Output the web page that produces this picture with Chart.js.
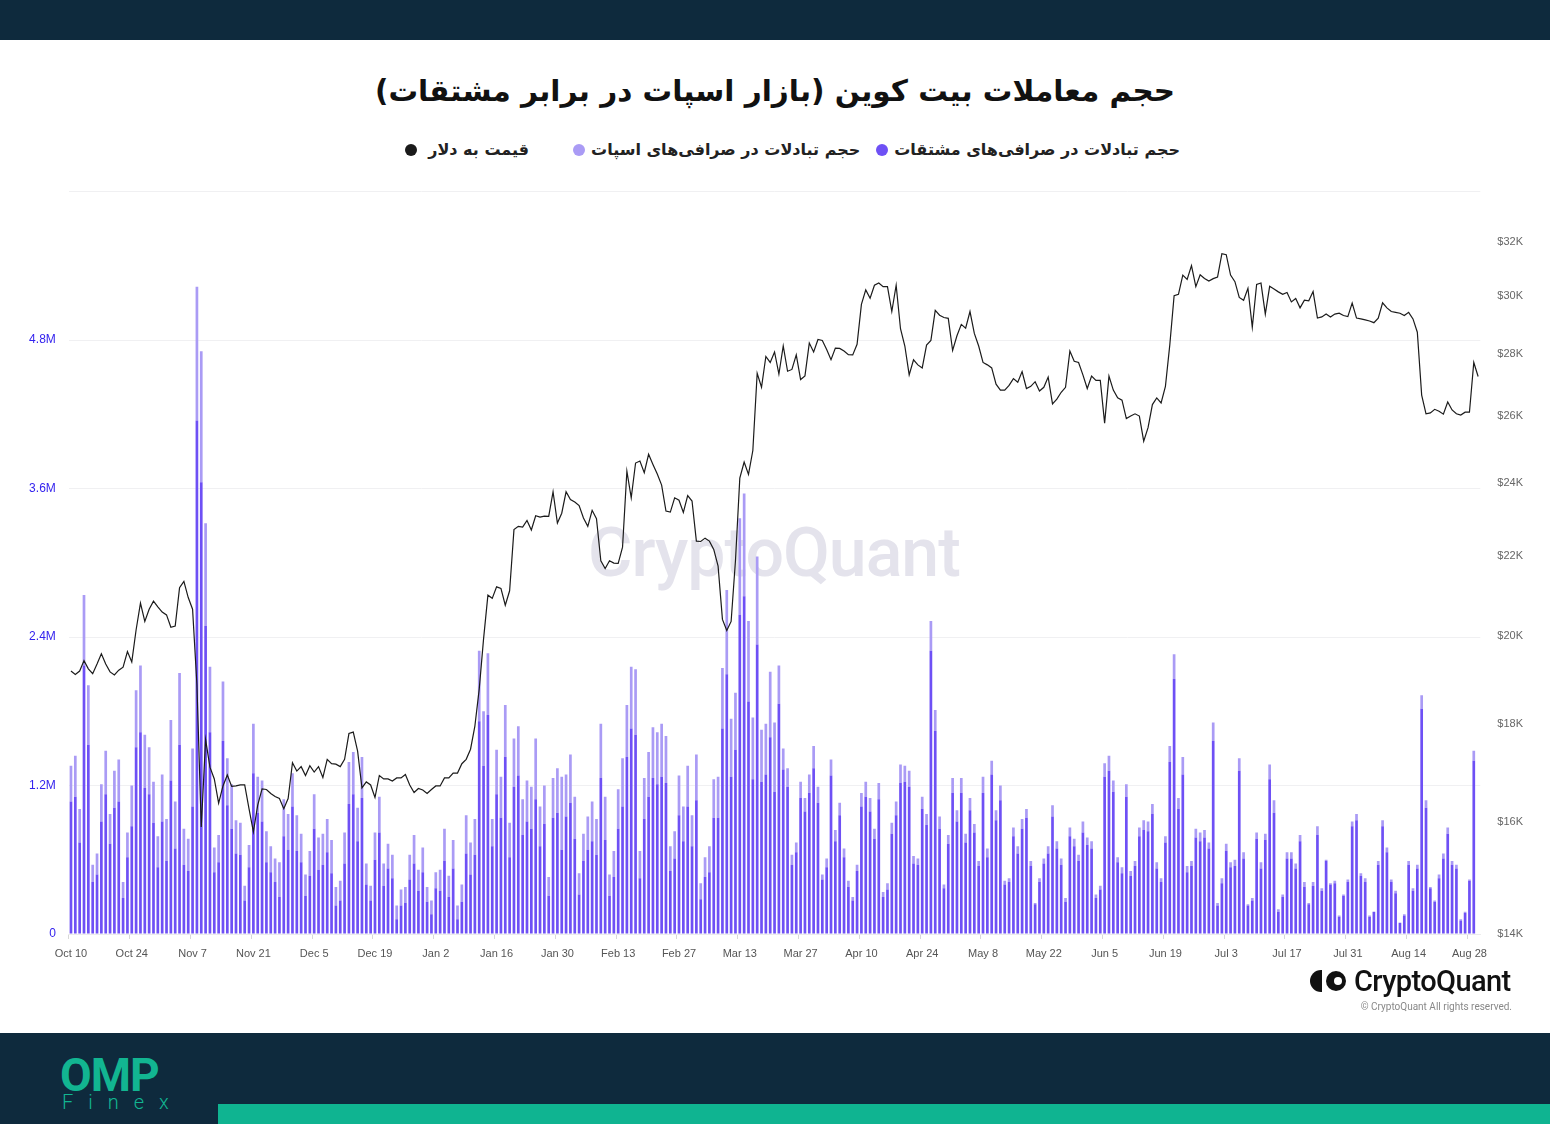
<!DOCTYPE html>
<html lang="fa">
<head>
<meta charset="utf-8">
<script src="https://cdn.jsdelivr.net/npm/chart.js@4.4.1/dist/chart.umd.min.js"></script>
<style>
  html, body { margin: 0; padding: 0; }
  body { width: 1550px; height: 1124px; position: relative; background: #fff; overflow: hidden; font-family: "Liberation Sans", Arial, sans-serif; }
  .band-top { position: absolute; left: 0; top: 0; width: 1550px; height: 40px; background: #0e2a3d; }
  .band-bot { position: absolute; left: 0; top: 1033px; width: 1550px; height: 91px; background: #0e2a3d; }
  .strip { position: absolute; left: 218px; top: 1104px; width: 1332px; height: 20px; background: #0fb491; }
  .omp { position: absolute; left: 60px; top: 1048px; font: bold 46px Roboto, sans-serif; color: #12b591; letter-spacing: -1px; }
  .finex { position: absolute; left: 62px; top: 1090px; font: 300 20px Roboto, sans-serif; color: #12b591; letter-spacing: 15px; }
  #title { position: absolute; left: 0; width: 1550px; top: 74px; text-align: center; direction: rtl;
    font: bold 29.5px "DejaVu Sans", sans-serif; color: #111; }
  #legend { position: absolute; right: 370px; top: 140px; direction: rtl; display: flex;
    font: bold 16px "DejaVu Sans", sans-serif; color: #222; }
  #legend span.item { display: flex; align-items: center; gap: 6px; }
  #legend i { display: inline-block; width: 12px; height: 12px; border-radius: 50%; }
  #watermark { position: absolute; left: 588px; top: 513px; font: 500 68px Roboto, sans-serif; color: #e4e3ec; letter-spacing: -1px; }
  #wrap { position: absolute; left: 0; top: 168px; width: 1550px; height: 802px; }
  .cq { position: absolute; left: 1310px; top: 964px; display: flex; align-items: center; gap: 8px; }
  .cq .ic1 { width: 12px; height: 22px; background: #111; border-radius: 12px 0 0 12px; }
  .cq .ic2 { width: 20px; height: 20px; background: #111; border-radius: 50%; margin-left: -4px; position: relative; }
  .cq .ic2:after { content: ""; position: absolute; left: 8px; top: 6px; width: 8px; height: 8px; background: #fff; border-radius: 50%; }
  .cq .txt { font: 500 29px Roboto, sans-serif; color: #111; letter-spacing: -0.6px; }
  .copy { position: absolute; right: 38px; top: 1001px; font: 10px Roboto, sans-serif; color: #888; }
</style>
</head>
<body>
<div class="band-top"></div>
<div id="title">حجم معاملات بیت کوین (بازار اسپات در برابر مشتقات)</div>
<div id="legend">
  <span class="item" style="margin-left:16px">حجم تبادلات در صرافی‌های مشتقات<i style="background:#6e50f5"></i></span>
  <span class="item" style="margin-left:44px">حجم تبادلات در صرافی‌های اسپات<i style="background:#aa9bf5"></i></span>
  <span class="item" style="gap:11px">قیمت به دلار<i style="background:#1a1a1a"></i></span>
</div>
<div id="watermark">CryptoQuant</div>
<div id="wrap"><canvas id="chart" width="1550" height="802"></canvas></div>
<div class="cq"><div class="ic1"></div><div class="ic2"></div><div class="txt">CryptoQuant</div></div>
<div class="copy">© CryptoQuant All rights reserved.</div>
<div class="band-bot"></div>
<div class="strip"></div>
<div class="omp">OMP</div>
<div class="finex">Finex</div>

<script>
// daily bars start 2022-10-10; one tick label every 14 days
const startDate = Date.UTC(2022, 9, 10);
const dayCount = 325;
const monthNames = ["Jan", "Feb", "Mar", "Apr", "May", "Jun", "Jul", "Aug", "Sep", "Oct", "Nov", "Dec"];
const tickLabels = ["Oct 10", "Oct 24", "Nov 7", "Nov 21", "Dec 5", "Dec 19", "Jan 2", "Jan 16", "Jan 30",
  "Feb 13", "Feb 27", "Mar 13", "Mar 27", "Apr 10", "Apr 24", "May 8", "May 22", "Jun 5", "Jun 19",
  "Jul 3", "Jul 17", "Jul 31", "Aug 14", "Aug 28"];

// derivatives exchange volume (millions)
const derivVol = [
  1.07,1.11,0.74,2.17,1.53,0.42,0.48,0.91,1.13,0.73,1.02,1.07,0.29,0.62,0.87,1.51,1.63,1.18,1.13,0.90,
  0.54,0.91,0.59,1.24,0.69,1.53,0.56,0.51,1.03,4.15,3.65,2.49,1.63,0.50,0.58,1.56,1.04,0.85,0.65,0.64,
  0.27,0.54,1.30,0.98,0.91,0.58,0.50,0.42,0.30,0.79,0.68,1.03,0.67,0.58,0.31,0.47,0.85,0.52,0.56,0.66,
  0.49,0.23,0.27,0.57,1.05,1.13,0.75,1.10,0.40,0.27,0.60,0.82,0.39,0.53,0.45,0.12,0.23,0.25,0.44,0.57,
  0.35,0.50,0.26,0.16,0.37,0.35,0.59,0.30,0.53,0.12,0.26,0.65,0.48,0.64,1.72,1.36,1.77,0.71,1.13,0.94,
  1.43,0.62,1.19,1.28,0.80,0.91,0.85,1.09,0.71,0.89,0.31,0.94,0.98,0.68,0.95,1.06,0.77,0.32,0.59,0.68,
  0.75,0.64,1.26,0.76,0.31,0.46,0.85,1.03,1.43,1.66,1.61,0.45,0.93,1.11,1.26,1.21,1.27,1.22,0.51,0.61,
  0.96,0.75,1.03,0.71,1.08,0.28,0.46,0.50,0.94,0.94,1.66,2.10,1.27,1.49,2.58,2.73,1.88,1.25,2.34,1.23,
  1.29,1.59,1.15,1.86,1.33,1.19,0.56,0.66,1.10,0.99,1.14,1.34,1.06,0.44,0.54,1.28,0.75,0.96,0.62,0.38,
  0.27,0.51,1.03,1.11,0.99,0.77,1.09,0.30,0.36,0.81,0.96,1.22,1.23,1.19,0.57,0.56,1.01,0.88,2.29,1.64,
  0.85,0.37,0.73,1.14,0.91,1.14,0.74,1.00,0.82,0.55,1.14,0.62,1.29,0.92,1.08,0.40,0.42,0.79,0.65,0.85,
  0.94,0.55,0.24,0.42,0.57,0.65,0.95,0.69,0.56,0.26,0.79,0.71,0.59,0.82,0.72,0.69,0.29,0.36,1.27,1.32,
  1.15,0.58,0.49,1.11,0.47,0.55,0.79,0.84,0.83,0.97,0.53,0.42,0.74,1.39,2.06,1.01,1.29,0.50,0.55,0.78,
  0.75,0.78,0.69,1.56,0.23,0.41,0.67,0.54,0.55,1.32,0.61,0.23,0.27,0.77,0.53,0.76,1.25,0.98,0.18,0.30,
  0.61,0.61,0.53,0.75,0.38,0.24,0.39,0.80,0.35,0.59,0.40,0.41,0.14,0.31,0.42,0.87,0.92,0.47,0.42,0.14,
  0.18,0.56,0.87,0.66,0.42,0.33,0.09,0.15,0.56,0.35,0.53,1.82,1.02,0.37,0.26,0.45,0.61,0.81,0.56,0.53,
  0.11,0.17,0.43,1.40
];

// spot exchange volume (millions), stacked on top
const spotVol = [
  0.29,0.33,0.27,0.57,0.48,0.14,0.17,0.30,0.35,0.24,0.30,0.34,0.13,0.20,0.33,0.46,0.54,0.43,0.38,0.33,
  0.25,0.38,0.34,0.49,0.38,0.58,0.29,0.26,0.47,1.08,1.06,0.83,0.53,0.20,0.22,0.48,0.38,0.36,0.27,0.26,
  0.12,0.18,0.40,0.29,0.33,0.25,0.21,0.19,0.28,0.30,0.29,0.27,0.29,0.23,0.17,0.20,0.28,0.26,0.25,0.27,
  0.27,0.15,0.16,0.25,0.34,0.34,0.27,0.33,0.17,0.12,0.22,0.29,0.18,0.20,0.19,0.11,0.13,0.13,0.20,0.23,
  0.17,0.20,0.12,0.11,0.13,0.17,0.26,0.17,0.23,0.11,0.14,0.31,0.26,0.29,0.57,0.44,0.50,0.22,0.36,0.33,
  0.42,0.28,0.39,0.40,0.29,0.33,0.34,0.49,0.32,0.31,0.15,0.32,0.36,0.59,0.34,0.39,0.34,0.17,0.22,0.27,
  0.32,0.29,0.44,0.35,0.17,0.21,0.32,0.39,0.42,0.50,0.53,0.22,0.33,0.36,0.41,0.42,0.43,0.38,0.20,0.22,
  0.32,0.28,0.33,0.25,0.37,0.13,0.16,0.21,0.31,0.33,0.49,0.68,0.47,0.46,0.78,0.83,0.65,0.50,0.71,0.42,
  0.41,0.53,0.56,0.31,0.17,0.15,0.08,0.08,0.13,0.11,0.15,0.18,0.13,0.04,0.07,0.13,0.09,0.10,0.07,0.05,
  0.03,0.05,0.11,0.12,0.11,0.08,0.13,0.04,0.05,0.09,0.11,0.15,0.13,0.13,0.06,0.05,0.10,0.09,0.24,0.17,
  0.10,0.03,0.07,0.12,0.09,0.12,0.07,0.10,0.07,0.04,0.13,0.07,0.11,0.08,0.12,0.03,0.03,0.07,0.06,0.08,
  0.07,0.04,0.01,0.03,0.04,0.06,0.09,0.06,0.05,0.03,0.07,0.06,0.05,0.09,0.06,0.06,0.03,0.03,0.11,0.12,
  0.09,0.04,0.05,0.10,0.04,0.04,0.07,0.08,0.08,0.08,0.05,0.03,0.05,0.13,0.20,0.09,0.14,0.05,0.04,0.07,
  0.07,0.06,0.05,0.15,0.02,0.04,0.06,0.04,0.05,0.10,0.05,0.01,0.02,0.05,0.05,0.05,0.12,0.10,0.02,0.02,
  0.05,0.05,0.04,0.05,0.04,0.01,0.03,0.07,0.02,0.01,0.01,0.02,0.01,0.01,0.02,0.04,0.05,0.02,0.03,0.01,
  0.00,0.03,0.05,0.04,0.02,0.02,0.00,0.01,0.03,0.02,0.03,0.11,0.06,0.01,0.01,0.03,0.04,0.05,0.03,0.03,
  0.01,0.01,0.01,0.08
];

// BTC price in thousands of USD
const priceK = [
  19.17,19.09,19.17,19.41,19.22,19.11,19.33,19.57,19.33,19.15,19.08,19.19,19.26,19.62,19.38,20.14,20.79,20.34,20.64,20.84,
  20.70,20.57,20.50,20.20,20.23,21.18,21.34,20.93,20.64,18.86,15.91,17.66,17.09,16.85,16.37,16.71,16.93,16.70,16.71,16.73,
  16.73,16.26,15.82,16.33,16.65,16.64,16.56,16.50,16.46,16.26,16.46,17.18,17.01,17.10,16.92,17.12,16.99,17.10,16.88,17.25,
  17.16,17.15,17.10,17.25,17.79,17.82,17.42,16.67,16.79,16.73,16.48,16.92,16.85,16.85,16.81,16.87,16.87,16.94,16.73,16.58,
  16.66,16.63,16.56,16.64,16.71,16.71,16.87,16.87,16.97,16.97,17.16,17.25,17.46,17.95,18.76,19.92,20.99,20.91,21.20,21.16,
  20.74,21.10,22.70,22.79,22.77,22.95,22.69,23.08,23.04,23.07,23.06,23.75,22.88,23.15,23.75,23.53,23.46,23.36,23.02,22.79,
  23.23,23.00,21.87,21.67,21.87,21.81,21.80,22.23,24.34,23.58,24.58,24.64,24.30,24.84,24.54,24.26,23.94,23.21,23.18,23.58,
  23.51,23.17,23.64,23.49,22.39,22.38,22.47,22.39,22.17,21.73,20.39,20.12,20.34,21.87,24.14,24.61,24.25,24.95,27.36,26.91,
  27.92,27.72,28.07,27.34,28.27,27.43,27.49,27.97,27.16,27.28,28.37,28.07,28.49,28.46,28.15,27.81,28.20,28.19,28.10,27.98,
  27.97,28.33,29.71,30.23,29.93,30.40,30.48,30.35,30.35,29.46,30.40,28.86,28.27,27.31,27.81,27.64,27.54,28.30,28.46,29.50,
  29.33,29.25,29.22,28.12,28.62,29.01,28.88,29.46,28.70,28.27,27.72,27.64,27.54,27.01,26.82,26.82,26.97,27.19,27.07,27.42,
  26.87,26.94,27.09,26.79,26.91,27.24,26.38,26.53,26.75,26.91,28.10,27.76,27.72,27.31,26.87,27.27,27.13,27.13,25.78,27.27,
  26.82,26.57,26.50,25.92,26.00,26.07,26.00,25.23,25.64,26.36,26.57,26.41,26.94,28.30,30.02,30.07,30.77,30.61,31.12,30.35,
  30.78,30.65,30.55,30.64,30.70,31.57,31.53,30.77,30.53,29.96,29.86,30.29,28.91,30.43,30.48,29.37,30.36,30.26,30.16,30.07,
  30.14,29.80,29.92,29.59,29.86,29.84,30.17,29.23,29.27,29.37,29.27,29.37,29.40,29.32,29.28,29.76,29.23,29.20,29.17,29.13,
  29.07,29.23,29.77,29.59,29.46,29.43,29.40,29.32,29.43,29.20,28.74,26.66,26.07,26.10,26.21,26.15,26.06,26.44,26.19,26.07,
  26.03,26.12,26.12,27.72,27.26
];

const volTicks = [0, 1.2, 2.4, 3.6, 4.8, 6.0];
const priceTicks = [14, 16, 18, 20, 22, 24, 26, 28, 30, 32];

const labels = [];
for (let i = 0; i < dayCount; i++) {
  const d = new Date(startDate + i * 86400000);
  labels.push(monthNames[d.getUTCMonth()] + " " + d.getUTCDate());
}

const ctx = document.getElementById("chart");
new Chart(ctx, {
  data: {
    labels,
    datasets: [
      {
        type: "line",
        label: "قیمت به دلار",
        data: priceK.map((v) => v * 1000),
        yAxisID: "yPrice",
        borderColor: "#1b1b1b",
        borderWidth: 1.2,
        pointRadius: 0,
        tension: 0,
        order: 0,
      },
      {
        type: "bar",
        label: "حجم تبادلات در صرافی‌های مشتقات",
        data: derivVol.map((v) => v * 1e6),
        yAxisID: "yVol",
        backgroundColor: "#6e50f5",
        barPercentage: 0.62,
        categoryPercentage: 1,
        stack: "vol",
        order: 1,
      },
      {
        type: "bar",
        label: "حجم تبادلات در صرافی‌های اسپات",
        data: spotVol.map((v) => v * 1e6),
        yAxisID: "yVol",
        backgroundColor: "#aa9bf5",
        barPercentage: 0.62,
        categoryPercentage: 1,
        stack: "vol",
        order: 2,
      },
    ],
  },
  options: {
    responsive: false,
    animation: false,
    layout: { padding: { top: 11, left: 0, right: 0, bottom: 0 } },
    plugins: { legend: { display: false }, tooltip: { enabled: false } },
    scales: {
      x: {
        stacked: true,
        offset: true,
        border: { color: "#ececec" },
        grid: {
          drawOnChartArea: false,
          tickLength: 5,
          color: (c) => (c.index % 14 === 0 ? "#d8d8d8" : "rgba(0,0,0,0)"),
        },
        ticks: {
          autoSkip: false,
          maxRotation: 0,
          padding: 8,
          color: "#555",
          font: { family: "Liberation Sans", size: 11 },
          callback: (v, i) => (i % 14 === 0 ? tickLabels[i / 14] : ""),
        },
        afterFit: (s) => { s.height = 36; },
      },
      yVol: {
        position: "left",
        stacked: true,
        min: 0,
        max: 6e6,
        border: { display: false },
        grid: { color: "#f0f0f2", drawTicks: false },
        afterBuildTicks: (s) => { s.ticks = volTicks.map((v) => ({ value: v * 1e6 })); },
        ticks: {
          padding: 13,
          color: "#3322ee",
          font: { family: "Liberation Sans", size: 12 },
          callback: (v) => (v === 0 ? "0" : v >= 6e6 ? "" : (v / 1e6).toFixed(1) + "M"),
        },
        afterFit: (s) => { s.width = 68.8; },
      },
      yPrice: {
        type: "logarithmic",
        position: "right",
        min: 14000,
        max: 34000,
        border: { display: false },
        grid: { display: false, drawTicks: false },
        afterBuildTicks: (s) => { s.ticks = priceTicks.map((v) => ({ value: v * 1000 })); },
        ticks: {
          padding: 17,
          color: "#666",
          font: { family: "Liberation Sans", size: 11 },
          callback: (v) => "$" + Math.round(v / 1000) + "K",
        },
        afterFit: (s) => { s.width = 69.7; },
      },
    },
  },
});
</script>
</body>
</html>
